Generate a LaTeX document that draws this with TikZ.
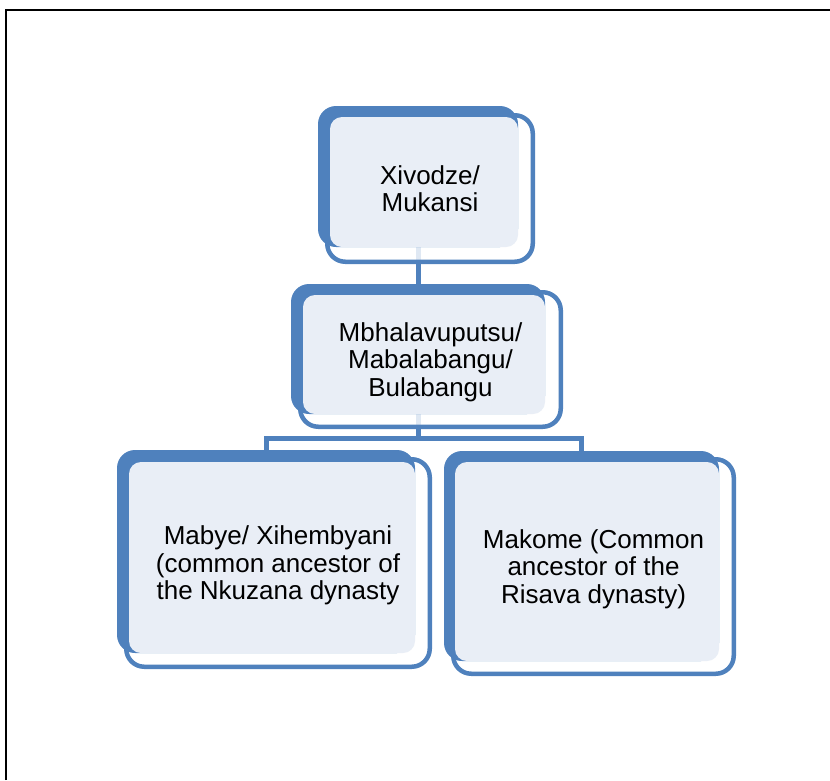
\documentclass[tikz,border=0pt]{standalone}
\usepackage{fontspec}
\setmainfont{Liberation Sans}
\usetikzlibrary{backgrounds}
\definecolor{accent}{RGB}{79,129,189}
\definecolor{tint}{RGB}{233,238,246}

\tikzset{
  x=1pt, y=-1pt,
  backplate/.style={fill=accent, rounded corners=18pt, inner sep=0pt, draw=none},
  outline/.style={draw=accent, line width=4.5pt, fill=white, fill opacity=0.82, rounded corners=18pt},
  face/.style={fill=tint, rounded corners=12pt},
  boxtext/.style={font=\fontsize{26}{27.5}\selectfont, align=center, text depth=0pt, inner sep=0pt},
  conn/.style={draw=accent, line width=5pt},
  frameline/.style={draw=black, line width=2pt},
}

\begin{document}
\begin{tikzpicture}
\useasboundingbox (0,0) rectangle (830,780);

% page frame (top and left rules)
\draw[frameline] (6,780) -- (6,10) -- (830,10);

% --- top: Xivodze / Mukansi
\draw[outline] (327.25,115.25) rectangle (532.75,261.75);
\node[backplate, minimum width=200pt, minimum height=141pt] (top) at (418,176.5) {};
\fill[face] (330,117) rectangle (518,247);
\node[boxtext] (toptext) at (430,188.5) {Xivodze/\\Mukansi};

% --- middle: Mbhalavuputsu
\draw[outline] (300.25,292.25) rectangle (560.75,426.75);
\node[backplate, minimum width=254pt, minimum height=130pt] (mid) at (418,349) {};
\fill[face] (303,295) rectangle (545,414);
\node[boxtext] (midtext) at (430.5,359.5) {Mbhalavuputsu/\\Mabalabangu/\\Bulabangu};

% --- bottom left: Mabye
\draw[outline] (126.25,459.25) rectangle (429.75,666.75);
\node[backplate, minimum width=298pt, minimum height=203pt] (bl) at (266,551.5) {};
\fill[face] (129,462) rectangle (415,653);
\node[boxtext] (bltext) at (278,563) {Mabye/ Xihembyani\\(common ancestor of\\the Nkuzana dynasty};

% --- bottom right: Makome
\draw[outline] (453.25,459.25) rectangle (733.75,673.75);
\node[backplate, minimum width=275pt, minimum height=210pt] (br) at (581.5,556) {};
\fill[face] (455,462) rectangle (719,661);
\node[boxtext] (brtext) at (593.5,566.5) {Makome (Common\\ancestor of the\\Risava dynasty)};

% connectors, behind the boxes
\coordinate (split) at (418,438);
\begin{pgfonlayer}{background}
  \draw[conn] (top.center) -- (mid.center);
  \draw[conn] (mid.center) -- (split);
  \draw[conn] (bl.north) -- (bl.north |- split) -- (br.north |- split) -- (br.north);
\end{pgfonlayer}
\end{tikzpicture}
\end{document}
